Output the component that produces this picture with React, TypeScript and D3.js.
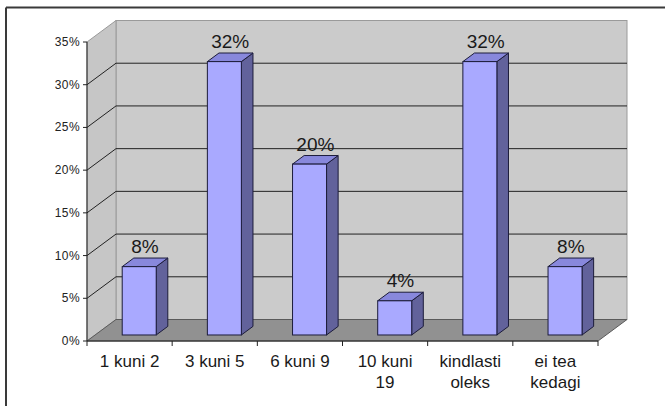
import React from "react";
import * as d3 from "d3";

const categories: string[][] = [
  ["1 kuni 2"],
  ["3 kuni 5"],
  ["6 kuni 9"],
  ["10 kuni", "19"],
  ["kindlasti", "oleks"],
  ["ei tea", "kedagi"],
];
const values: number[] = [8, 32, 20, 4, 32, 8];
const yTicks: number[] = [0, 5, 10, 15, 20, 25, 30, 35];

const W = 665;
const H = 406;
// plot frame (front face of the 3D box)
const x0 = 87;
const x1 = 598;
const yBase = 341;
const yTop = 42;
// depth vector of the 3D box
const DX = 29;
const DY = -21.5;
// bar depth position within the box (fractions of the full depth)
const F0 = 0.28;
const F1 = 0.68;
const BAR_W = 34;

const font = "'Liberation Sans', Arial, sans-serif";

export default function App() {
  const x = d3
    .scaleBand<number>()
    .domain(d3.range(categories.length))
    .range([x0, x1]);
  const y = d3.scaleLinear().domain([0, 35]).range([yBase, yTop]);

  const pts = (arr: [number, number][]) => arr.map((p) => p.join(",")).join(" ");

  const bars = values.map((v, i) => {
    const cx = x(i)! + x.bandwidth() / 2 + F0 * DX + 1.5;
    const lx = cx - BAR_W / 2;
    const rx = cx + BAR_W / 2;
    const by = y(0) + F0 * DY;
    const ty = y(v) + F0 * DY;
    const ddx = (F1 - F0) * DX;
    const ddy = (F1 - F0) * DY;
    return (
      <g key={i}>
        <polygon
          points={pts([
            [rx, by],
            [rx + ddx, by + ddy],
            [rx + ddx, ty + ddy],
            [rx, ty],
          ])}
          fill="#62629b"
          stroke="#1c1c3a"
          strokeWidth={1}
          strokeLinejoin="round"
        />
        <polygon
          points={pts([
            [lx, ty],
            [lx + ddx, ty + ddy],
            [rx + ddx, ty + ddy],
            [rx, ty],
          ])}
          fill="#8888dc"
          stroke="#1c1c3a"
          strokeWidth={1}
          strokeLinejoin="round"
        />
        <rect
          x={lx}
          y={ty}
          width={BAR_W}
          height={by - ty}
          fill="#a9a9ff"
          stroke="#1c1c3a"
          strokeWidth={1}
        />
        <text
          x={cx + ddx / 2}
          y={ty + ddy - 5}
          textAnchor="middle"
          fontFamily={font}
          fontSize={19}
          fill="#1a1a1a"
        >
          {v}%
        </text>
      </g>
    );
  });

  return (
    <svg
      width={W}
      height={H}
      style={{ position: "fixed", left: 0, top: 0, background: "#fff" }}
    >
      {/* outer chart frame */}
      <line x1={6} y1={7.5} x2={W} y2={7.5} stroke="#3a3a3a" strokeWidth={2} />
      <line x1={6} y1={7.5} x2={6} y2={H} stroke="#3a3a3a" strokeWidth={2} />

      {/* back wall */}
      <rect
        x={x0 + DX}
        y={yTop + DY}
        width={x1 - x0}
        height={yBase - yTop}
        fill="#cbcbcb"
        stroke="#9a9a9a"
      />
      {/* side wall */}
      <polygon
        points={pts([
          [x0, yTop],
          [x0 + DX, yTop + DY],
          [x0 + DX, yBase + DY],
          [x0, yBase],
        ])}
        fill="#c6c6c6"
        stroke="#9a9a9a"
      />
      {/* floor */}
      <polygon
        points={pts([
          [x0, yBase],
          [x0 + DX, yBase + DY],
          [x1 + DX, yBase + DY],
          [x1, yBase],
        ])}
        fill="#919191"
        stroke="#5a5a5a"
      />

      {/* gridlines */}
      {yTicks
        .filter((t) => t > 0 && t < 35)
        .map((t) => (
          <g key={t}>
            <line
              x1={x0}
              y1={y(t)}
              x2={x0 + DX}
              y2={y(t) + DY}
              stroke="#222"
              strokeWidth={1}
            />
            <line
              x1={x0 + DX}
              y1={y(t) + DY}
              x2={x1 + DX}
              y2={y(t) + DY}
              stroke="#222"
              strokeWidth={1}
            />
          </g>
        ))}

      {/* value axis */}
      <line x1={x0} y1={yTop} x2={x0} y2={yBase} stroke="#222" />
      {yTicks.map((t) => (
        <g key={t}>
          <line x1={x0 - 4} y1={y(t)} x2={x0} y2={y(t)} stroke="#222" />
          <text
            x={x0 - 7}
            y={y(t) + 4}
            textAnchor="end"
            fontFamily={font}
            fontSize={12}
            letterSpacing={0.4}
            fill="#222"
          >
            {t}%
          </text>
        </g>
      ))}

      {/* category axis */}
      <line x1={x0} y1={yBase} x2={x1} y2={yBase} stroke="#222" />
      {d3.range(categories.length + 1).map((i) => {
        const xx = x0 + i * x.bandwidth();
        return <line key={i} x1={xx} y1={yBase} x2={xx} y2={yBase + 5} stroke="#222" />;
      })}
      {categories.map((lines, i) => (
        <text
          key={i}
          x={x(i)! + x.bandwidth() / 2}
          y={367}
          textAnchor="middle"
          fontFamily={font}
          fontSize={17}
          fill="#1a1a1a"
        >
          {lines.map((l, j) => (
            <tspan key={j} x={x(i)! + x.bandwidth() / 2} dy={j === 0 ? 0 : 21}>
              {l}
            </tspan>
          ))}
        </text>
      ))}

      {bars}
    </svg>
  );
}
